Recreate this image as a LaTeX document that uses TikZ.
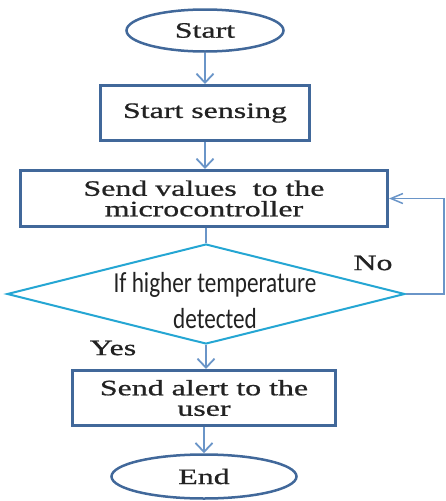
\documentclass[tikz,border=0pt]{standalone}
\usepackage{fontspec}
\usetikzlibrary{shapes.geometric,arrows.meta}
\newfontfamily\serifw[FakeStretch=1.45,FakeBold=0.8]{Liberation Serif}
\newfontfamily\sansc[FakeStretch=0.8]{Carlito}
\definecolor{boxblue}{HTML}{41689A}
\definecolor{arrblue}{HTML}{6A95C8}
\definecolor{diacyan}{HTML}{24A6D3}
\definecolor{txt}{HTML}{222222}
\tikzset{
  lbl/.style={font=\serifw\fontsize{22}{20.5}\selectfont, text=txt, align=center},
  procbox/.style={lbl, draw=boxblue, line width=3pt, rectangle, inner sep=0pt},
  termnode/.style={lbl, draw=boxblue, line width=2.5pt, ellipse, inner sep=0pt},
  decnode/.style={draw=diacyan, line width=2pt, diamond, inner sep=0pt},
  flow/.style={draw=arrblue, line width=2pt, -{Straight Barb[length=9pt,width=17pt,line width=1.8pt]}},
  loopline/.style={draw=arrblue, line width=1.5pt, -{Straight Barb[length=12pt,width=10pt,line width=1.5pt]}},
  dtext/.style={font=\sansc\fontsize{29}{29}\selectfont, text=txt, anchor=base, inner sep=0pt}
}
\begin{document}
\begin{tikzpicture}[x=1pt,y=-1pt]
\useasboundingbox (0,0) rectangle (446,501);
\node[termnode, minimum width=157pt, minimum height=42pt] (st) at (205,30.5) {Start};
\node[procbox, minimum width=209pt, minimum height=55pt] (ss) at (205,113) {Start sensing};
\node[procbox, minimum width=367pt, minimum height=56pt] (sv) at (204,198.5) {Send values \ to the\\microcontroller};
\node[decnode, minimum width=398pt, minimum height=100pt] (d) at (206,294) {};
\node[dtext] (d1) at (215,292) {If higher temperature};
\node[dtext] (d2) at (215,328) {detected};
\node[procbox, minimum width=263pt, minimum height=55pt] (al) at (204,398) {Send alert to the\\user};
\node[termnode, minimum width=185pt, minimum height=44pt] (en) at (204,476.5) {End};
\node[lbl] (no) at (373,263) {No};
\node[lbl] (yes) at (113,348) {Yes};
\draw[flow] (st.south) -- (ss.north);
\draw[flow] (ss.south) -- (ss.south |- sv.north);
\draw[draw=arrblue, line width=2pt] (sv.south -| d.north) -- (d.north);
\draw[flow] (d.south) -- (d.south |- al.north);
\draw[flow] (al.south) -- (al.south |- en.north);
\coordinate (lp) at (444,294);
\draw[loopline] (d.east) -- (lp) |- (sv.east);
\end{tikzpicture}
\end{document}
